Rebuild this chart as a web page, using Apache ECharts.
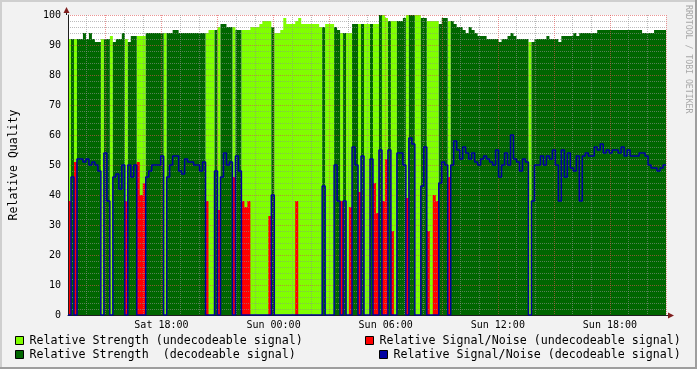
<!DOCTYPE html>
<html><head><meta charset="utf-8">
<script src="https://cdn.jsdelivr.net/npm/echarts@6/dist/echarts.min.js"></script>
<style>html,body{margin:0;padding:0;background:#f2f2f2}#c{width:697px;height:369px}</style>
</head><body><div id="c"></div>
<script>
// time axis: hours since Saturday 00:00
const startHour = 13, endHour = 45, stepHours = 0.16;
// 1 = decodeable signal, 0 = undecodeable signal
const decodeable = [
0,1,0,1,1,1,1,1,1,1, 1,0,1,1,0,1,1,1,1,0, 1,1,1,0,0,0,1,1,1,1, 1,1,0,1,1,1,1,1,1,1,
1,1,1,1,1,1,0,0,0,1, 0,1,1,1,1,0,1,1,0,0, 0,0,0,0,0,0,0,0,1,0, 0,0,0,0,0,0,0,0,0,0,
0,0,0,0,0,1,0,0,0,1, 1,0,1,0,0,1,1,0,1,0, 0,1,0,0,1,0,0,1,0,0, 1,1,1,0,1,1,0,0,1,1,
0,0,0,0,1,1,1,0,1,1, 1,1,1,1,1,1,1,1,1,1, 1,1,1,1,1,1,1,1,1,1, 1,1,1,1,0,1,1,1,1,1,
1,1,1,1,1,1,1,1,1,1, 1,1,1,1,1,1,1,1,1,1, 1,1,1,1,1,1,1,1,1,1, 1,1,1,1,1,1,1,1,1,1
];
const strength = [
92,92,92,92,92,94,92,94,92,91, 91,92,92,92,93,91,92,92,94,92, 91,93,93,93,93,93,94,94,94,94, 94,94,94,94,94,95,95,94,94,94,
94,94,94,94,94,94,94,95,95,95, 96,97,97,96,96,96,95,95,95,95, 95,96,96,96,97,98,98,98,96,94, 94,95,99,97,97,97,98,99,97,97,
97,97,97,97,96,96,97,97,97,96, 95,94,94,94,94,97,97,97,97,97, 97,97,97,97,100,100,99,98,98,98, 98,98,99,100,100,100,100,100,99,99,
98,98,98,98,97,99,99,98,98,97, 96,96,95,94,96,95,94,93,93,93, 92,92,92,92,91,92,92,93,94,93, 92,92,92,92,91,91,92,92,92,92,
93,92,92,92,91,93,93,93,93,94, 93,94,94,94,94,94,94,95,95,95, 95,95,95,95,95,95,95,95,95,95, 95,95,94,94,94,94,95,95,95,95
];
const snr = [
38,46,51,52,52,51,52,50,51,50, 48,0,54,38,0,46,47,42,50,38, 50,46,50,51,40,44,46,48,50,50, 50,53,0,46,50,53,53,48,47,52,
51,51,50,50,48,51,38,0,0,48, 35,46,54,50,51,46,53,48,38,36, 38,0,0,0,0,0,0,33,40,0, 0,0,0,0,0,0,38,0,0,0,
0,0,0,0,0,43,0,0,0,50, 38,38,38,0,36,56,50,41,53,0, 0,52,44,34,55,38,52,55,28,0, 54,54,50,39,59,57,0,0,43,56,
28,0,40,38,44,51,50,46,50,58, 55,52,56,54,52,54,51,50,52,53, 52,51,50,55,46,50,54,50,60,52, 51,48,52,51,0,38,50,50,53,50,
53,52,55,50,38,55,46,54,49,48, 53,38,53,54,53,53,56,55,57,54, 55,54,55,55,54,56,53,55,53,53, 53,54,54,53,50,49,49,48,49,50
];
const xTickHours = [18, 24, 30, 36, 42];
const xTickLabels = ['Sat 18:00', 'Sun 00:00', 'Sun 06:00', 'Sun 12:00', 'Sun 18:00'];
const legendNames = [
  'Relative Strength (undecodeable signal)',
  'Relative Strength  (decodeable signal)',
  'Relative Signal/Noise (undecodeable signal)',
  'Relative Signal/Noise (decodeable signal)'
];
const C = {light:'#80ff00', dark:'#006600', red:'#ff0000', blue:'#0000a0'};
const MINOR = 'rgba(143,143,143,0.6)', MAJOR = 'rgba(222,79,79,0.6)';
const MONO = '"DejaVu Sans Mono", monospace';

function build(f) {
  const out = [];
  for (let i = 0; i < strength.length; i++) out.push([startHour + i * stepHours, f(i)]);
  out.push([endHour, f(strength.length - 1)]);
  return out;
}
function areaSeries(name, color, f) {
  return {name, type:'line', step:'end', data: build(f), symbol:'none', showSymbol:false,
    lineStyle:{width:0}, areaStyle:{color, opacity:1}, z:2, silent:true};
}

const chart = echarts.init(document.getElementById('c'), null, {renderer:'canvas'});
const legendG = [];
const lg = [
  {x:15.5, y:336.5, tx:29.5, ty:341, c:C.light, t:legendNames[0]},
  {x:15.5, y:350.5, tx:29.5, ty:355, c:C.dark, t:legendNames[1]},
  {x:365.5, y:336.5, tx:379.5, ty:341, c:C.red, t:legendNames[2]},
  {x:379.5, y:350.5, tx:393.5, ty:355, c:C.blue, t:legendNames[3]}
];
lg.forEach(o => {
  legendG.push({type:'rect', shape:{x:o.x, y:o.y, width:8, height:8}, style:{fill:o.c, stroke:'#000', lineWidth:1}, silent:true});
  legendG.push({type:'text', x:o.tx, y:o.ty, style:{text:o.t, font:'11.65px ' + MONO, fill:'#000',
    textAlign:'left', textVerticalAlign:'middle', align:'left', verticalAlign:'middle'}, silent:true});
});

chart.setOption({
  animation:false,
  backgroundColor:'#f2f2f2',
  grid:{left:66, top:15, width:600, height:300, show:true, backgroundColor:'#ffffff', borderWidth:0},
  xAxis:{type:'value', min:startHour, max:endHour, interval:1, z:3,
    axisLine:{show:true, onZero:false, lineStyle:{color:'#1f1f1f', width:1}},
    axisTick:{show:false},
    axisLabel:{formatter: v => { const k = xTickHours.indexOf(Math.round(v)); return (k < 0 || Math.abs(v - Math.round(v)) > 1e-6) ? '' : xTickLabels[k]; },
      color:'#000', fontFamily:MONO, fontSize:10, margin:5},
    splitLine:{show:true, lineStyle:{color:[MINOR, MINOR, MAJOR], type:[1,1], width:1}}},
  yAxis:{type:'value', min:0, max:100, interval:10, z:3,
    name:'Relative Quality', nameLocation:'middle', nameGap:48,
    nameTextStyle:{fontFamily:MONO, fontSize:11.5, color:'#000'},
    axisLine:{show:true, lineStyle:{color:'#1f1f1f', width:1}},
    axisTick:{show:false},
    axisLabel:{color:'#000', fontFamily:MONO, fontSize:10, margin:7},
    splitLine:{show:true, lineStyle:{color:MAJOR, type:[1,1], width:1}},
    minorTick:{show:false, splitNumber:5},
    minorSplitLine:{show:true, lineStyle:{color:MINOR, type:[1,1], width:1}}},
  series:[
    areaSeries(legendNames[0], C.light, i => decodeable[i] ? 0 : strength[i]),
    areaSeries(legendNames[1], C.dark, i => decodeable[i] ? strength[i] : 0),
    areaSeries(legendNames[2], C.red, i => decodeable[i] ? 0 : snr[i]),
    {name:legendNames[3], type:'line', step:'end', data: build(i => decodeable[i] ? snr[i] : 0),
      symbol:'none', showSymbol:false, lineStyle:{color:C.blue, width:1.5}, z:4, silent:true}
  ],
  graphic:[
    {type:'rect', shape:{x:0, y:0, width:697, height:2}, style:{fill:'#cfcfcf'}, silent:true},
    {type:'rect', shape:{x:0, y:0, width:2, height:369}, style:{fill:'#cfcfcf'}, silent:true},
    {type:'rect', shape:{x:695, y:0, width:2, height:369}, style:{fill:'#9e9e9e'}, silent:true},
    {type:'rect', shape:{x:0, y:367, width:697, height:2}, style:{fill:'#9e9e9e'}, silent:true},
    {type:'line', shape:{x1:66.5, y1:15, x2:66.5, y2:11}, style:{stroke:'#1f1f1f', lineWidth:1}, silent:true},
    {type:'polygon', shape:{points:[[66.5,7],[63.5,13],[69.5,13]]}, style:{fill:'#801f1f'}, silent:true},
    {type:'line', shape:{x1:666, y1:315.5, x2:670, y2:315.5}, style:{stroke:'#1f1f1f', lineWidth:1}, silent:true},
    {type:'polygon', shape:{points:[[674,315.5],[668,312.5],[668,318.5]]}, style:{fill:'#801f1f'}, silent:true},
    {type:'text', x:688, y:5, rotation:-Math.PI/2, style:{text:'RRDTOOL / TOBI OETIKER', fill:'#a8a8a8',
      font:'8.2px ' + MONO, textAlign:'left', textVerticalAlign:'middle', align:'left', verticalAlign:'middle'}, silent:true}
  ].concat(legendG)
});
</script>
</body></html>
